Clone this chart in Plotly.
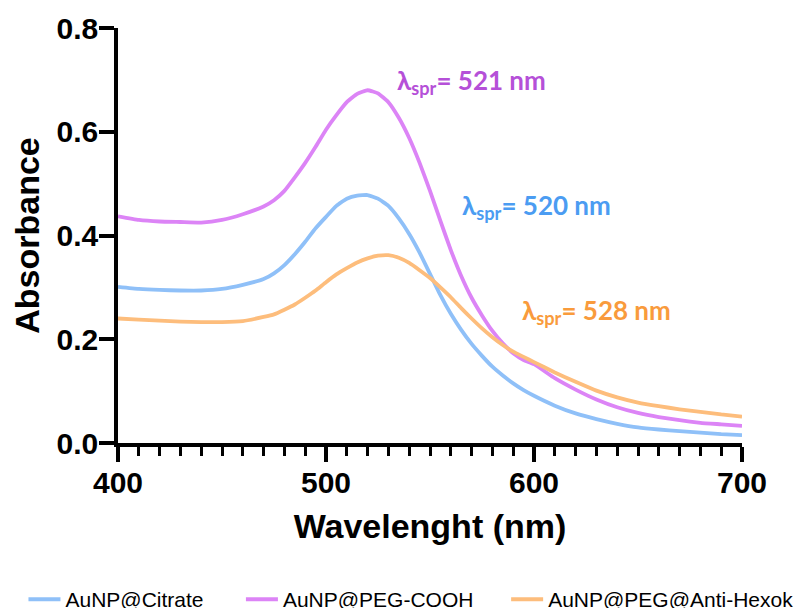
import plotly.graph_objects as go

wavelength = [400, 410, 420, 430, 440, 450, 460, 470, 475, 480, 485, 490, 495, 500, 505, 510,
              515, 520, 525, 530, 535, 540, 545, 550, 555, 560, 565, 570, 575, 580, 585, 590,
              595, 600, 610, 620, 630, 640, 650, 660, 670, 680, 690, 700]

citrate = [0.301, 0.297, 0.295, 0.294, 0.294, 0.297, 0.305, 0.316, 0.327, 0.343, 0.364, 0.388,
           0.414, 0.436, 0.457, 0.471, 0.477, 0.478, 0.471, 0.457, 0.433, 0.403, 0.367, 0.326,
           0.285, 0.249, 0.218, 0.191, 0.168, 0.147, 0.130, 0.115, 0.102, 0.091, 0.072, 0.057,
           0.046, 0.037, 0.030, 0.026, 0.023, 0.020, 0.017, 0.015]

peg_cooh = [0.437, 0.430, 0.427, 0.426, 0.425, 0.430, 0.441, 0.456, 0.468, 0.486, 0.512, 0.540,
            0.571, 0.604, 0.632, 0.657, 0.673, 0.680, 0.674, 0.657, 0.627, 0.588, 0.540, 0.486,
            0.428, 0.372, 0.322, 0.280, 0.246, 0.216, 0.192, 0.173, 0.160, 0.152, 0.125, 0.103,
            0.084, 0.069, 0.058, 0.050, 0.044, 0.039, 0.036, 0.033]

anti_hexok = [0.240, 0.238, 0.236, 0.234, 0.233, 0.233, 0.235, 0.243, 0.248, 0.257, 0.267, 0.280,
              0.294, 0.310, 0.325, 0.337, 0.348, 0.356, 0.361, 0.362, 0.357, 0.347, 0.333, 0.318,
              0.300, 0.281, 0.260, 0.240, 0.221, 0.204, 0.189, 0.176, 0.166, 0.156, 0.136, 0.118,
              0.101, 0.088, 0.078, 0.071, 0.065, 0.060, 0.055, 0.051]

series_names = ["AuNP@Citrate", "AuNP@PEG-COOH", "AuNP@PEG@Anti-Hexok I"]
line_colors = ["#8fc0f8", "#dc84f6", "#fdbd7c"]

peak_labels = ["λ<sub>spr</sub>= 521 nm", "λ<sub>spr</sub>= 520 nm", "λ<sub>spr</sub>= 528 nm"]
label_x = [533, 564.5, 593.5]
label_y = [0.697, 0.455, 0.253]
label_colors = ["#b550d8", "#4b9cf2", "#f99b3c"]

legend_ids = ["legend", "legend2", "legend3"]
legend_x = [-0.1515, 0.197, 0.622]

fig = go.Figure()
for name, ys, col, lid in zip(series_names, [citrate, peg_cooh, anti_hexok], line_colors, legend_ids):
    fig.add_trace(go.Scatter(x=wavelength, y=ys, mode="lines", name=name, legend=lid,
                             line=dict(color=col, width=3.8, shape="spline", smoothing=0.4)))

for txt, lx, ly, lc in zip(peak_labels, label_x, label_y, label_colors):
    fig.add_annotation(x=lx, y=ly, xref="x", yref="y", text=txt, showarrow=False,
                       xanchor="left", yanchor="middle",
                       font=dict(family="Lato", size=26, color=lc, weight="bold"))

axis_font = dict(family="Liberation Sans", size=30, color="black", weight="bold")
title_font = dict(family="Liberation Sans", size=34, color="black", weight="bold")

fig.update_xaxes(range=[400, 700], tickvals=[400, 500, 600, 700], ticks="outside",
                 ticklen=15, tickwidth=3.5, tickcolor="black", showline=True, linewidth=3.5,
                 linecolor="black", showgrid=False, zeroline=False, tickfont=axis_font,
                 ticklabelstandoff=-5,
                 minor=dict(dtick=10, ticks="outside", ticklen=9, tickwidth=3, tickcolor="black"),
                 title=dict(text="Wavelenght (nm)", font=title_font, standoff=17))
fig.update_yaxes(range=[0, 0.8], tickvals=[0, 0.2, 0.4, 0.6, 0.8],
                 ticktext=["0.0", "0.2", "0.4", "0.6", "0.8"], ticks="outside",
                 ticklen=15, tickwidth=3.5, tickcolor="black", showline=True, linewidth=3.5,
                 linecolor="black", showgrid=False, zeroline=False, tickfont=axis_font,
                 ticklabelstandoff=-5,
                 title=dict(text="Absorbance", font=title_font, standoff=11))

legend_style = dict(orientation="h", xanchor="left", y=-0.328, yanchor="top",
                    font=dict(family="Liberation Sans", size=21, color="black"),
                    itemwidth=32, bgcolor="rgba(0,0,0,0)")

fig.update_layout(
    width=807, height=608,
    margin=dict(l=110, r=73, t=20, b=173, autoexpand=False),
    plot_bgcolor="white", paper_bgcolor="white",
    showlegend=True,
    legend=dict(x=legend_x[0], **legend_style),
    legend2=dict(x=legend_x[1], **legend_style),
    legend3=dict(x=legend_x[2], **legend_style),
)

fig.write_html("out.html")
